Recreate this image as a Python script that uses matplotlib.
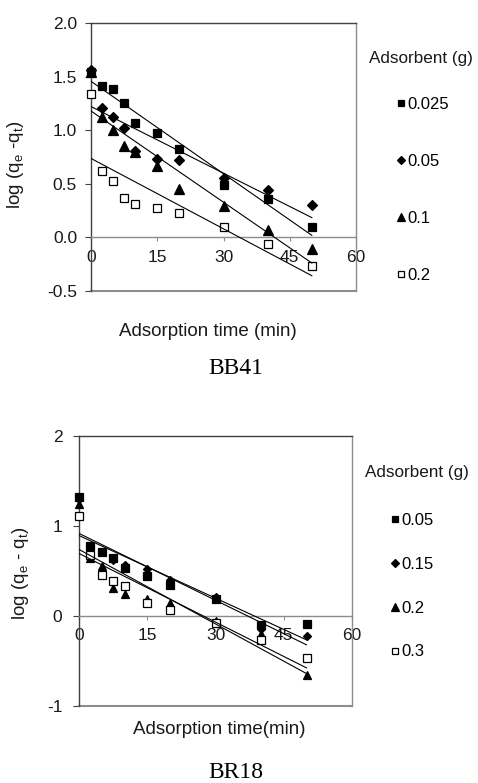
import numpy as np
import matplotlib
matplotlib.use("Agg")
import matplotlib.pyplot as plt

plt.rcParams['font.family'] = ['Liberation Sans', 'DejaVu Sans']

# adsorption times (min), same for every series
times = [0, 2.5, 5, 7.5, 10, 15, 20, 30, 40, 50]

# BB41, log(qe - qt) per adsorbent dose
bb41_labels = ["0.025", "0.05", "0.1", "0.2"]
bb41_0025 = [1.545, 1.41, 1.38, 1.255, 1.07, 0.97, 0.82, 0.49, 0.355, 0.093]
bb41_005 = [1.56, 1.21, 1.12, 1.02, 0.81, 0.735, 0.726, 0.55, 0.44, 0.305]
bb41_01 = [1.54, 1.12, 1.0, 0.85, 0.80, 0.67, 0.455, 0.29, 0.065, -0.105]
bb41_02 = [1.34, 0.62, 0.53, 0.37, 0.31, 0.27, 0.23, 0.093, -0.065, -0.27]

# BR18
br18_labels = ["0.05", "0.15", "0.2", "0.3"]
br18_005 = [1.325, 0.78, 0.71, 0.64, 0.53, 0.44, 0.345, 0.185, -0.10, -0.09]
br18_015 = [1.30, 0.75, 0.71, 0.62, 0.57, 0.52, 0.40, 0.21, -0.14, -0.22]
br18_02 = [1.25, 0.64, 0.56, 0.31, 0.24, 0.19, 0.14, -0.05, -0.20, -0.65]
br18_03 = [1.11, 0.68, 0.46, 0.39, 0.33, 0.15, 0.067, -0.074, -0.27, -0.47]

W, H = 478, 783
GRAY = '#8c8c8c'
DARK = '#404040'
TXT = '#1a1a1a'


def px_rect(l, t, r, b):
    return [l / W, 1 - b / H, (r - l) / W, (b - t) / H]


def draw_panel(ax, series, labels, ylim, yticks, yfmt, ms, ypad):
    styles = [dict(marker='s', mfc='black', mec='black'),
              dict(marker='D', mfc='black', mec='black'),
              dict(marker='^', mfc='black', mec='black'),
              dict(marker='s', mfc='white', mec='black')]
    sizes = [ms, ms * 0.8, ms * 1.1, ms]
    handles = []
    t = np.array(times)
    for vals, lab, st, sz in zip(series, labels, styles, sizes):
        h, = ax.plot(times, vals, ls='none', ms=sz, mew=0.9, label=lab,
                     zorder=3, clip_on=False, **st)
        handles.append(h)
        # linear trendline (Excel style), from first to last time
        k, b = np.polyfit(t, np.array(vals), 1)
        tt = np.array([t[0], t[-1]])
        ax.plot(tt, k * tt + b, color='black', lw=0.8, zorder=4)

    ax.set_xlim(0, 60)
    ax.set_ylim(*ylim)
    ax.set_xticks([0, 15, 30, 45, 60])
    ax.set_yticks(yticks)
    ax.set_yticklabels([yfmt.format(v) for v in yticks])

    ax.spines['bottom'].set_position(('data', 0))
    ax.spines['bottom'].set_color(GRAY)
    ax.spines['left'].set_color(DARK)
    ax.spines['top'].set_color(DARK)
    ax.spines['right'].set_color(GRAY)
    for s in ax.spines.values():
        s.set_linewidth(1.0)
    # lower frame edge of the plot area
    ax.axhline(ylim[0], color=GRAY, lw=1.5, clip_on=False)

    ax.tick_params(axis='x', direction='out', length=3, color=GRAY,
                   pad=6, labelsize=12.5, labelcolor=TXT)
    ax.tick_params(axis='y', direction='out', length=4, color=DARK,
                   pad=ypad, labelsize=12.5, labelcolor=TXT)
    return handles


fig = plt.figure(figsize=(W / 100, H / 100), dpi=100)

# top panel: BB41
ax1 = fig.add_axes(px_rect(91, 23, 356, 291))
h1 = draw_panel(ax1, [bb41_0025, bb41_005, bb41_01, bb41_02], bb41_labels,
                (-0.5, 2.0), [-0.5, 0.0, 0.5, 1.0, 1.5, 2.0], '{:.1f}', 6.3, 6)
ax1.set_ylabel(r'log (q$_\mathregular{e}$ -q$_\mathregular{t}$)', fontsize=13.5,
               color=TXT)
ax1.yaxis.set_label_coords(-0.245, 0.47)
fig.text(369 / W, 1 - 58 / H, 'Adsorbent (g)', fontsize=12.3,
         ha='left', va='center', color=TXT)
ax1.legend(handles=h1, loc='upper left', bbox_to_anchor=(398 / W, 1 - 97 / H),
           bbox_transform=fig.transFigure, frameon=False, fontsize=12,
           handlelength=0.4, handletextpad=0.15, labelspacing=2.52,
           borderpad=0, borderaxespad=0, markerscale=0.75)
fig.text(208 / W, 1 - 332 / H, 'Adsorption time (min)', fontsize=13.5,
         ha='center', va='center', color=TXT)
fig.text(236 / W, 1 - 369 / H, 'BB41', fontsize=17, family='Liberation Serif',
         ha='center', va='center')

# bottom panel: BR18
ax2 = fig.add_axes(px_rect(79, 436, 352, 706))
h2 = draw_panel(ax2, [br18_005, br18_015, br18_02, br18_03], br18_labels,
                (-1, 2), [-1, 0, 1, 2], '{:.0f}', 5.2, 8)
ax2.set_ylabel(r'log (q$_\mathregular{e}$ - q$_\mathregular{t}$)', fontsize=13.5,
               color=TXT)
ax2.yaxis.set_label_coords(-0.175, 0.49)
fig.text(365 / W, 1 - 472 / H, 'Adsorbent (g)', fontsize=12.3,
         ha='left', va='center', color=TXT)
ax2.legend(handles=h2, loc='upper left', bbox_to_anchor=(392 / W, 1 - 513 / H),
           bbox_transform=fig.transFigure, frameon=False, fontsize=12,
           handlelength=0.4, handletextpad=0.15, labelspacing=1.73,
           borderpad=0, borderaxespad=0, markerscale=0.9)
fig.text(219 / W, 1 - 730 / H, 'Adsorption time(min)', fontsize=13.5,
         ha='center', va='center', color=TXT)
fig.text(236 / W, 1 - 773 / H, 'BR18', fontsize=17, family='Liberation Serif',
         ha='center', va='center')

fig.savefig('out.png', dpi=100)
